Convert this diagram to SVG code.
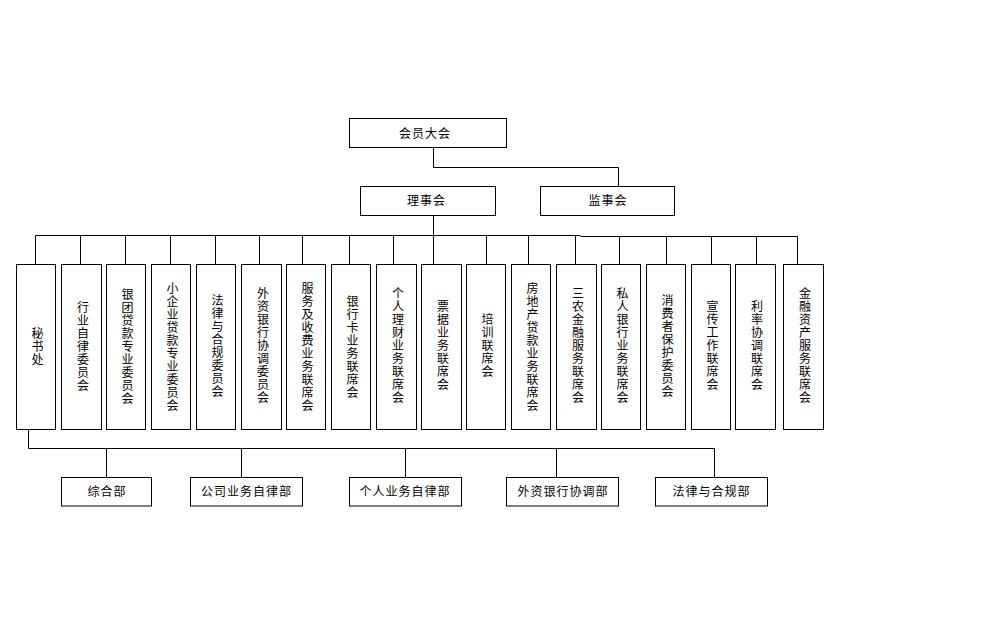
<svg xmlns="http://www.w3.org/2000/svg" width="1008" height="630" viewBox="0 0 1008 630">
<style>
.b{fill:#fff;stroke:#000;stroke-width:1}
.c{fill:none;stroke:#000;stroke-width:1}
text{font-family:"Liberation Sans","Noto Sans CJK SC",sans-serif;font-size:12px;fill:#000;letter-spacing:1px}
.h{text-anchor:middle;dominant-baseline:central}
.v{writing-mode:vertical-rl;text-anchor:middle}
</style>
<rect width="1008" height="630" fill="#fff"/>
<g id="connectors">
<path class="c" d="M433.5,147.5V167.5H618.5V186.5M433.5,215.5V264M35.5,235.5H580.5M580.5,236.5H797.5"/>
<path class="c" d="M35.5,235.5V264M80.5,235.5V264M125.5,235.5V264M170.5,235.5V264M215.5,235.5V264M259.5,235.5V264M302.5,235.5V264M349.5,235.5V264M393.5,235.5V264M486.5,235.5V264M528.5,235.5V264M575.5,235.5V264M619.5,236.5V264M666.5,236.5V264M711.5,236.5V264M756.5,236.5V264M797.5,236.5V264"/>
<path class="c" d="M28.5,429.5V448.5H714.5V477.5M106.5,448.5V477.5M241.5,448.5V477.5M405.5,448.5V477.5M556.5,448.5V477.5"/>
</g>
<g id="n_hydh"><rect class="b" x="349.5" y="118.5" width="157" height="29"/><text class="h" x="425" y="134">会员大会</text></g>
<g id="n_lsh"><rect class="b" x="360.5" y="186.5" width="135" height="29"/><text class="h" x="426.5" y="201">理事会</text></g>
<g id="n_jsh"><rect class="b" x="540.5" y="186.5" width="134" height="29"/><text class="h" x="608" y="201">监事会</text></g>
<g id="n1"><rect class="b" x="16.5" y="264.5" width="39" height="165"/><text class="v" x="36" y="347">秘书处</text></g>
<g id="n2"><rect class="b" x="61.5" y="264.5" width="40" height="165"/><text class="v" x="81.5" y="347">行业自律委员会</text></g>
<g id="n3"><rect class="b" x="106.5" y="264.5" width="39" height="165"/><text class="v" x="126" y="347">银团贷款专业委员会</text></g>
<g id="n4"><rect class="b" x="151.5" y="264.5" width="39" height="165"/><text class="v" x="171" y="347">小企业贷款专业委员会</text></g>
<g id="n5"><rect class="b" x="196.5" y="264.5" width="39" height="165"/><text class="v" x="216" y="346">法律与合规委员会</text></g>
<g id="n6"><rect class="b" x="241.5" y="264.5" width="40" height="165"/><text class="v" x="261.5" y="346">外资银行协调委员会</text></g>
<g id="n7"><rect class="b" x="286.5" y="264.5" width="39" height="165"/><text class="v" x="306" y="347">服务及收费业务联席会</text></g>
<g id="n8"><rect class="b" x="331.5" y="264.5" width="39" height="165"/><text class="v" x="351" y="347">银行卡业务联席会</text></g>
<g id="n9"><rect class="b" x="376.5" y="264.5" width="40" height="165"/><text class="v" x="396.5" y="346">个人理财业务联席会</text></g>
<g id="n10"><rect class="b" x="421.5" y="264.5" width="40" height="165"/><text class="v" x="441.5" y="346">票据业务联席会</text></g>
<g id="n11"><rect class="b" x="466.5" y="264.5" width="39" height="165"/><text class="v" x="486" y="346">培训联席会</text></g>
<g id="n12"><rect class="b" x="511.5" y="264.5" width="39" height="165"/><text class="v" x="531" y="347">房地产贷款业务联席会</text></g>
<g id="n13"><rect class="b" x="556.5" y="264.5" width="40" height="165"/><text class="v" x="576.5" y="346">三农金融服务联席会</text></g>
<g id="n14"><rect class="b" x="601.5" y="264.5" width="39" height="165"/><text class="v" x="621" y="346">私人银行业务联席会</text></g>
<g id="n15"><rect class="b" x="646.5" y="264.5" width="39" height="165"/><text class="v" x="666" y="346">消费者保护委员会</text></g>
<g id="n16"><rect class="b" x="691.5" y="264.5" width="39" height="165"/><text class="v" x="711" y="346">宣传工作联席会</text></g>
<g id="n17"><rect class="b" x="735.5" y="264.5" width="40" height="165"/><text class="v" x="755.5" y="346">利率协调联席会</text></g>
<g id="n18"><rect class="b" x="783.5" y="264.5" width="40" height="165"/><text class="v" x="803.5" y="346">金融资产服务联席会</text></g>
<g id="d1"><rect class="b" x="61.5" y="477.5" width="90" height="28.5"/><text class="h" x="107" y="492">综合部</text></g>
<g id="d2"><rect class="b" x="190.5" y="477.5" width="112" height="28.5"/><text class="h" x="246.5" y="492">公司业务自律部</text></g>
<g id="d3"><rect class="b" x="349.5" y="477.5" width="112" height="28.5"/><text class="h" x="405" y="492">个人业务自律部</text></g>
<g id="d4"><rect class="b" x="506.5" y="477.5" width="112" height="28.5"/><text class="h" x="563" y="492">外资银行协调部</text></g>
<g id="d5"><rect class="b" x="655.5" y="477.5" width="112" height="28.5"/><text class="h" x="711.5" y="492">法律与合规部</text></g>
</svg>
